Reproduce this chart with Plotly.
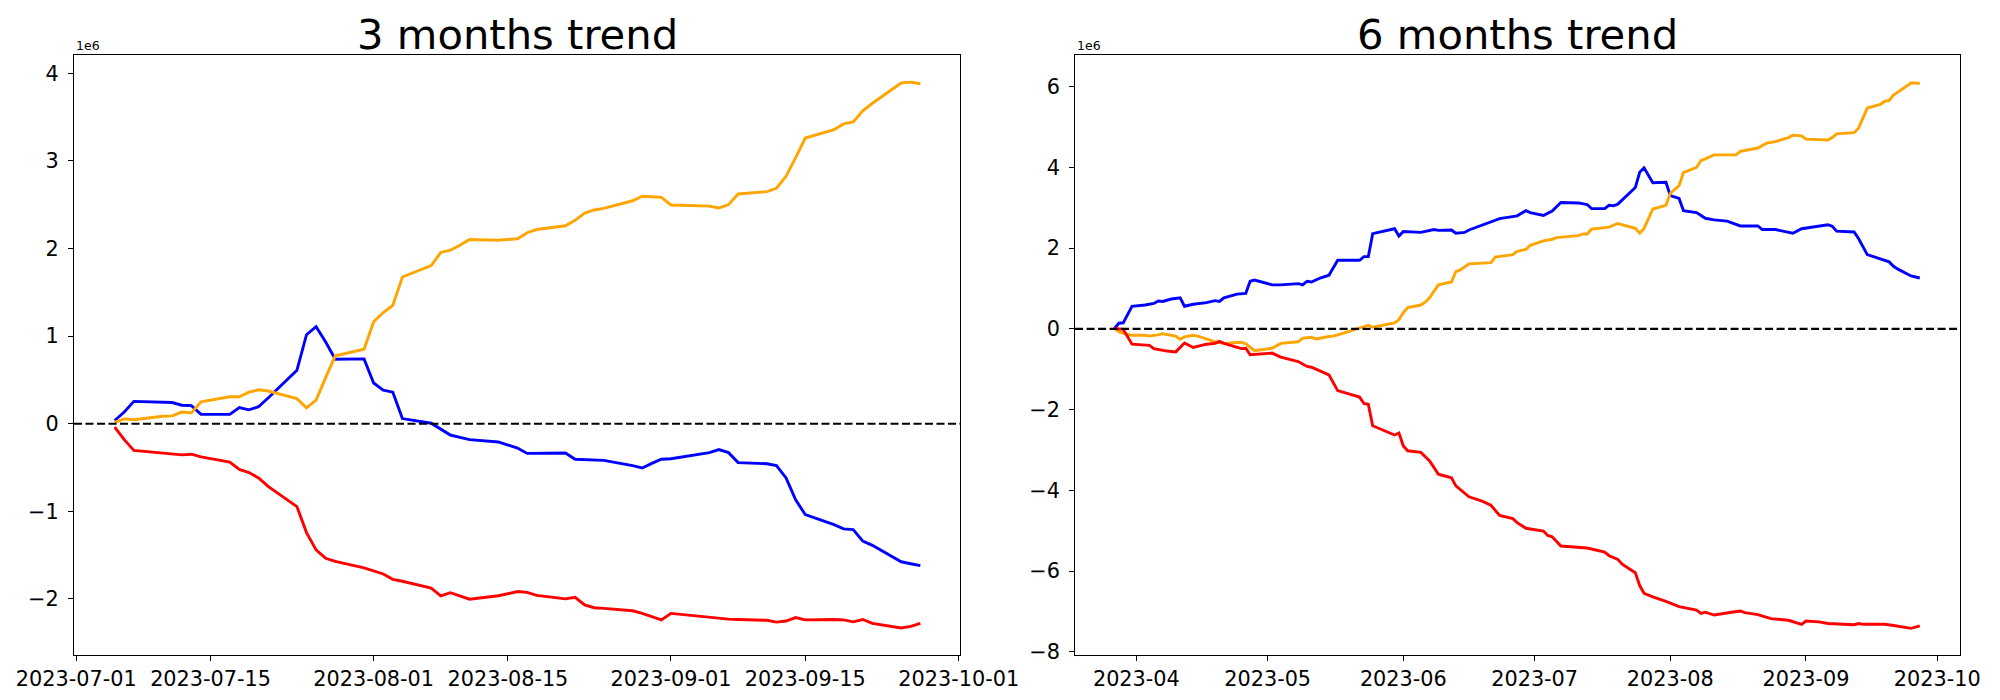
import plotly.graph_objects as go

# ---------------- data (values in units of 1e6) ----------------
dates_3m = [
    "2023-07-05", "2023-07-06", "2023-07-07", "2023-07-10", "2023-07-11", "2023-07-12", "2023-07-13", "2023-07-14",
    "2023-07-17", "2023-07-18", "2023-07-19", "2023-07-20", "2023-07-21", "2023-07-24", "2023-07-25", "2023-07-26",
    "2023-07-27", "2023-07-28", "2023-07-31", "2023-08-01", "2023-08-02", "2023-08-03", "2023-08-04", "2023-08-07",
    "2023-08-08", "2023-08-09", "2023-08-10", "2023-08-11", "2023-08-14", "2023-08-15", "2023-08-16", "2023-08-17",
    "2023-08-18", "2023-08-21", "2023-08-22", "2023-08-23", "2023-08-24", "2023-08-25", "2023-08-28", "2023-08-29",
    "2023-08-30", "2023-08-31", "2023-09-01", "2023-09-05", "2023-09-06", "2023-09-07", "2023-09-08", "2023-09-11",
    "2023-09-12", "2023-09-13", "2023-09-14", "2023-09-15", "2023-09-18", "2023-09-19", "2023-09-20", "2023-09-21",
    "2023-09-22", "2023-09-25", "2023-09-26", "2023-09-27",
]
blue_3m = [
    0.037, 0.133, 0.255, 0.246, 0.242, 0.211, 0.207, 0.107, 0.107, 0.185, 0.159, 0.194, 0.294, 0.610, 1.016, 1.107,
    0.932, 0.736, 0.740, 0.465, 0.382, 0.360, 0.059, 0.006, -0.064, -0.129, -0.156, -0.182, -0.208, -0.239, -0.278,
    -0.339, -0.339, -0.335, -0.405, -0.409, -0.409, -0.418, -0.479, -0.505, -0.453, -0.405, -0.400, -0.330, -0.295,
    -0.330, -0.444, -0.457, -0.479, -0.619, -0.868, -1.038, -1.152, -1.200, -1.208, -1.340, -1.388, -1.576, -1.598,
    -1.620,
]
orange_3m = [
    0.015, 0.054, 0.045, 0.085, 0.089, 0.133, 0.124, 0.251, 0.308, 0.308, 0.360, 0.387, 0.373, 0.286, 0.181, 0.269,
    0.526, 0.775, 0.850, 1.164, 1.269, 1.352, 1.675, 1.806, 1.955, 1.981, 2.038, 2.103, 2.094, 2.099, 2.112, 2.180,
    2.217, 2.260, 2.322, 2.405, 2.440, 2.458, 2.545, 2.597, 2.589, 2.584, 2.497, 2.484, 2.462, 2.501, 2.623, 2.649,
    2.688, 2.824, 3.038, 3.261, 3.357, 3.422, 3.444, 3.571, 3.658, 3.890, 3.899, 3.881,
]
red_3m = [
    -0.038, -0.182, -0.304, -0.335, -0.339, -0.356, -0.348, -0.378, -0.439, -0.522, -0.557, -0.619, -0.715, -0.946,
    -1.243, -1.440, -1.536, -1.571, -1.645, -1.676, -1.715, -1.776, -1.798, -1.877, -1.964, -1.929, -1.964, -2.003,
    -1.964, -1.942, -1.916, -1.925, -1.960, -1.999, -1.982, -2.069, -2.100, -2.108, -2.135, -2.165, -2.200, -2.239,
    -2.165, -2.213, -2.226, -2.230, -2.235, -2.244, -2.265, -2.252, -2.213, -2.239, -2.235, -2.239, -2.261, -2.235,
    -2.279, -2.331, -2.314, -2.279,
]

blue_6m_dates = [
    "2023-03-27", "2023-03-28", "2023-03-29", "2023-03-31", "2023-04-03", "2023-04-05", "2023-04-06", "2023-04-07",
    "2023-04-09", "2023-04-11", "2023-04-12", "2023-04-14", "2023-04-17", "2023-04-19", "2023-04-20", "2023-04-21",
    "2023-04-24", "2023-04-26", "2023-04-27", "2023-04-28", "2023-05-02", "2023-05-04", "2023-05-08", "2023-05-09",
    "2023-05-10", "2023-05-11", "2023-05-13", "2023-05-15", "2023-05-17", "2023-05-22", "2023-05-23", "2023-05-24",
    "2023-05-25", "2023-05-30", "2023-05-31", "2023-06-01", "2023-06-05", "2023-06-08", "2023-06-09", "2023-06-12",
    "2023-06-13", "2023-06-15", "2023-06-16", "2023-06-20", "2023-06-23", "2023-06-27", "2023-06-29", "2023-06-30",
    "2023-07-03", "2023-07-05", "2023-07-07", "2023-07-11", "2023-07-13", "2023-07-14", "2023-07-17", "2023-07-18",
    "2023-07-19", "2023-07-20", "2023-07-24", "2023-07-25", "2023-07-26", "2023-07-28", "2023-07-31", "2023-08-01",
    "2023-08-03", "2023-08-04", "2023-08-07", "2023-08-09", "2023-08-11", "2023-08-14", "2023-08-17", "2023-08-21",
    "2023-08-22", "2023-08-25", "2023-08-29", "2023-08-31", "2023-09-06", "2023-09-07", "2023-09-08", "2023-09-12",
    "2023-09-13", "2023-09-15", "2023-09-18", "2023-09-20", "2023-09-21", "2023-09-22", "2023-09-25", "2023-09-27",
]
blue_6m = [
    0.01, 0.14, 0.15, 0.56, 0.59, 0.63, 0.69, 0.68, 0.74, 0.77, 0.56, 0.61, 0.65, 0.70, 0.68, 0.77,
    0.86, 0.88, 1.18, 1.21, 1.09, 1.09, 1.12, 1.09, 1.18, 1.16, 1.26, 1.33, 1.70, 1.70, 1.79, 1.79,
    2.36, 2.48, 2.30, 2.41, 2.39, 2.46, 2.44, 2.45, 2.37, 2.39, 2.45, 2.62, 2.73, 2.80, 2.93, 2.88,
    2.81, 2.92, 3.13, 3.12, 3.08, 2.98, 2.98, 3.06, 3.05, 3.09, 3.50, 3.88, 3.99, 3.62, 3.63, 3.30,
    3.23, 2.93, 2.88, 2.74, 2.70, 2.67, 2.55, 2.55, 2.46, 2.46, 2.37, 2.48, 2.58, 2.54, 2.42, 2.40,
    2.24, 1.84, 1.73, 1.66, 1.55, 1.48, 1.31, 1.26,
]

orange_6m_dates = [
    "2023-03-27", "2023-03-28", "2023-03-29", "2023-03-31", "2023-04-03", "2023-04-04", "2023-04-05", "2023-04-06",
    "2023-04-07", "2023-04-08", "2023-04-10", "2023-04-11", "2023-04-12", "2023-04-14", "2023-04-15", "2023-04-17",
    "2023-04-19", "2023-04-21", "2023-04-25", "2023-04-26", "2023-04-28", "2023-05-02", "2023-05-04", "2023-05-08",
    "2023-05-09", "2023-05-11", "2023-05-12", "2023-05-15", "2023-05-16", "2023-05-18", "2023-05-21", "2023-05-23",
    "2023-05-24", "2023-05-25", "2023-05-29", "2023-05-30", "2023-05-31", "2023-06-01", "2023-06-02", "2023-06-05",
    "2023-06-06", "2023-06-07", "2023-06-09", "2023-06-12", "2023-06-13", "2023-06-14", "2023-06-16", "2023-06-21",
    "2023-06-22", "2023-06-26", "2023-06-27", "2023-06-29", "2023-06-30", "2023-07-03", "2023-07-05", "2023-07-06",
    "2023-07-11", "2023-07-12", "2023-07-13", "2023-07-14", "2023-07-18", "2023-07-20", "2023-07-24", "2023-07-25",
    "2023-07-26", "2023-07-28", "2023-07-31", "2023-08-01", "2023-08-03", "2023-08-04", "2023-08-07", "2023-08-08",
    "2023-08-09", "2023-08-11", "2023-08-16", "2023-08-17", "2023-08-21", "2023-08-23", "2023-08-25", "2023-08-28",
    "2023-08-29", "2023-08-31", "2023-09-01", "2023-09-04", "2023-09-06", "2023-09-07", "2023-09-08", "2023-09-12",
    "2023-09-13", "2023-09-15", "2023-09-18", "2023-09-19", "2023-09-20", "2023-09-21", "2023-09-25", "2023-09-26",
    "2023-09-27",
]
orange_6m = [
    0.01, -0.07, -0.11, -0.16, -0.16, -0.18, -0.16, -0.15, -0.12, -0.14, -0.18, -0.26, -0.20, -0.16, -0.18, -0.25,
    -0.32, -0.36, -0.33, -0.37, -0.54, -0.48, -0.36, -0.32, -0.23, -0.21, -0.25, -0.19, -0.18, -0.12, -0.01, 0.07,
    0.09, 0.04, 0.13, 0.15, 0.23, 0.40, 0.53, 0.59, 0.66, 0.77, 1.09, 1.16, 1.42, 1.46, 1.61, 1.64,
    1.78, 1.84, 1.92, 1.97, 2.07, 2.18, 2.22, 2.26, 2.31, 2.35, 2.35, 2.47, 2.52, 2.61, 2.49, 2.37,
    2.49, 2.97, 3.06, 3.36, 3.55, 3.87, 4.00, 4.17, 4.21, 4.31, 4.31, 4.40, 4.48, 4.60, 4.64, 4.74,
    4.80, 4.78, 4.70, 4.68, 4.68, 4.74, 4.83, 4.86, 4.97, 5.47, 5.56, 5.64, 5.66, 5.79, 6.09, 6.09,
    6.08,
]

red_6m_dates = [
    "2023-03-27", "2023-03-28", "2023-03-29", "2023-03-31", "2023-04-04", "2023-04-05", "2023-04-08", "2023-04-10",
    "2023-04-12", "2023-04-14", "2023-04-17", "2023-04-19", "2023-04-20", "2023-04-21", "2023-04-23", "2023-04-25",
    "2023-04-26", "2023-04-27", "2023-05-02", "2023-05-04", "2023-05-08", "2023-05-10", "2023-05-11", "2023-05-13",
    "2023-05-15", "2023-05-17", "2023-05-19", "2023-05-22", "2023-05-23", "2023-05-24", "2023-05-25", "2023-05-30",
    "2023-05-31", "2023-06-01", "2023-06-02", "2023-06-05", "2023-06-07", "2023-06-09", "2023-06-12", "2023-06-13",
    "2023-06-16", "2023-06-19", "2023-06-21", "2023-06-23", "2023-06-26", "2023-06-27", "2023-06-29", "2023-07-03",
    "2023-07-04", "2023-07-05", "2023-07-07", "2023-07-13", "2023-07-17", "2023-07-18", "2023-07-20", "2023-07-21",
    "2023-07-24", "2023-07-25", "2023-07-26", "2023-07-28", "2023-07-31", "2023-08-03", "2023-08-07", "2023-08-08",
    "2023-08-09", "2023-08-11", "2023-08-15", "2023-08-17", "2023-08-18", "2023-08-21", "2023-08-24", "2023-08-28",
    "2023-08-31", "2023-09-01", "2023-09-04", "2023-09-06", "2023-09-12", "2023-09-13", "2023-09-14", "2023-09-19",
    "2023-09-21", "2023-09-22", "2023-09-25", "2023-09-27",
]
red_6m = [
    0.01, 0.00, -0.01, -0.38, -0.41, -0.49, -0.55, -0.57, -0.35, -0.46, -0.38, -0.36, -0.31, -0.36, -0.43, -0.49,
    -0.48, -0.64, -0.60, -0.70, -0.81, -0.93, -0.95, -1.05, -1.14, -1.53, -1.60, -1.69, -1.85, -1.87, -2.40, -2.63,
    -2.58, -2.90, -3.02, -3.06, -3.27, -3.60, -3.69, -3.89, -4.16, -4.27, -4.37, -4.62, -4.70, -4.80, -4.94, -5.01,
    -5.12, -5.15, -5.38, -5.43, -5.53, -5.62, -5.71, -5.83, -6.04, -6.36, -6.55, -6.64, -6.75, -6.88, -6.97, -7.05,
    -7.02, -7.09, -7.02, -6.99, -7.03, -7.08, -7.18, -7.22, -7.32, -7.24, -7.26, -7.30, -7.33, -7.30, -7.32, -7.32,
    -7.35, -7.37, -7.42, -7.36,
]

titles = ["3 months trend", "6 months trend"]
ticks_3m = ["2023-07-01", "2023-07-15", "2023-08-01", "2023-08-15", "2023-09-01", "2023-09-15", "2023-10-01"]
ticks_6m = ["2023-04-01", "2023-05-01", "2023-06-01", "2023-07-01", "2023-08-01", "2023-09-01", "2023-10-01"]
ticks_6m_text = ["2023-04", "2023-05", "2023-06", "2023-07", "2023-08", "2023-09", "2023-10"]
yticks_3m = [-2, -1, 0, 1, 2, 3, 4]
yticks_6m = [-8, -6, -4, -2, 0, 2, 4, 6]
offset_label = "1e6"

# ---------------- styling ----------------
FONT = "DejaVu Sans"
BLUE, ORANGE, RED = "#0000ff", "#ffa500", "#ff0000"
LW = 2.9

fig = go.Figure()
for xs, ys, c in [(dates_3m, blue_3m, BLUE), (dates_3m, orange_3m, ORANGE), (dates_3m, red_3m, RED)]:
    fig.add_trace(go.Scatter(x=xs, y=ys, mode="lines", line=dict(color=c, width=LW),
                             xaxis="x", yaxis="y", showlegend=False))
for xs, ys, c in [(blue_6m_dates, blue_6m, BLUE), (orange_6m_dates, orange_6m, ORANGE), (red_6m_dates, red_6m, RED)]:
    fig.add_trace(go.Scatter(x=xs, y=ys, mode="lines", line=dict(color=c, width=LW),
                             xaxis="x2", yaxis="y2", showlegend=False))

axis_common = dict(
    showline=True, mirror=True, linecolor="black", linewidth=1.1,
    ticks="outside", ticklen=5, tickwidth=1.1, tickcolor="black",
    showgrid=False, zeroline=False, automargin=False,
    tickfont=dict(family=FONT, size=20.8, color="black"),
)

fig.update_layout(
    template="none",
    width=2000, height=700,
    margin=dict(l=74, r=40, t=55, b=45, autoexpand=False),
    paper_bgcolor="white", plot_bgcolor="white",
    font=dict(family=FONT, color="black"),
    xaxis=dict(domain=[0, 0.4698], anchor="y", type="date",
               range=["2023-06-30 18:14", "2023-10-01 03:20"],
               tickmode="array", tickvals=ticks_3m, ticktext=ticks_3m, **axis_common),
    yaxis=dict(domain=[0, 1], anchor="x", range=[-2.64, 4.209],
               tickmode="array", tickvals=yticks_3m, ticklabelstandoff=5, **axis_common),
    xaxis2=dict(domain=[0.5308, 1], anchor="y2", type="date",
                range=["2023-03-18 00:00", "2023-10-06 04:30"],
                tickmode="array", tickvals=ticks_6m, ticktext=ticks_6m_text, **axis_common),
    yaxis2=dict(domain=[0, 1], anchor="x2", range=[-8.08, 6.785],
                tickmode="array", tickvals=yticks_6m, ticklabelstandoff=5, **axis_common),
)

# horizontal dashed reference lines at zero
for xr, yr in [("x domain", "y"), ("x2 domain", "y2")]:
    fig.add_shape(type="line", xref=xr, yref=yr, x0=0, x1=1, y0=0, y1=0,
                  line=dict(color="black", width=2.2, dash="8px,3.5px"))

# titles and offset labels
for xr, title in [("x domain", titles[0]), ("x2 domain", titles[1])]:
    fig.add_annotation(text=title, xref=xr, yref="paper", x=0.5, y=1, xanchor="center", yanchor="bottom",
                       yshift=-6, showarrow=False, font=dict(family=FONT, size=41.7, color="black"))
    fig.add_annotation(text=offset_label, xref=xr, yref="paper", x=0, y=1, xanchor="left", yanchor="bottom",
                       showarrow=False, font=dict(family=FONT, size=12.5, color="black"))

fig.write_html("out.html", config={"displayModeBar": False},
               post_script="document.body.style.margin='0';")
